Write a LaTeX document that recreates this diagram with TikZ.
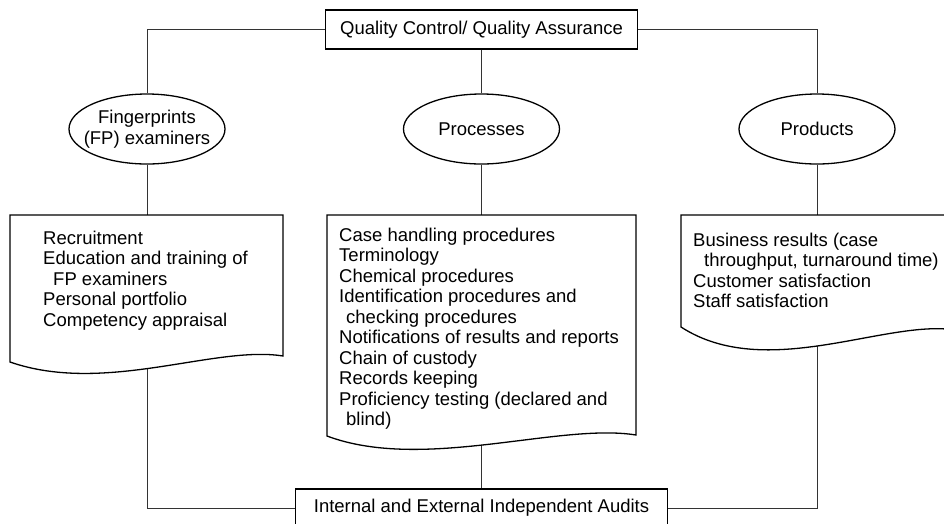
\documentclass[tikz,border=0pt]{standalone}
\usepackage{fontspec}
\setmainfont{Liberation Sans}
\usetikzlibrary{shapes.geometric}
\begin{document}
\begin{tikzpicture}[x=1pt,y=-1pt,
  every node/.style={font=\fontsize{18.5}{20.5}\selectfont, inner sep=0pt},
  boxnode/.style={draw, fill=white, line width=1.3pt, minimum width=312pt, minimum height=39pt},
  ovalnode/.style={draw, ellipse, line width=1.3pt, minimum width=156pt, minimum height=70pt, align=center},
  link/.style={line width=0.9pt, draw=black!80},
  docshape/.style={draw, fill=white, line width=1.3pt, line join=miter},
  doctext/.style={anchor=base west}]
\useasboundingbox (0,0) rectangle (944,523);
% main nodes
\node[boxnode] (qa) at (481.5,29.5) {Quality Control/ Quality Assurance};
\node[boxnode, minimum width=372pt, minimum height=38pt] (audit) at (481.5,508) {Internal and External Independent Audits};
\node[ovalnode, inner xsep=-9pt, inner ysep=-4pt] (fp) at (147,129) {Fingerprints\\(FP) examiners};
\node[ovalnode] (proc) at (481.5,129) {Processes};
\node[ovalnode] (prod) at (817,129) {Products};
% hidden points inside the documents
\coordinate (fpdoc) at (147,290);
\coordinate (procdoc) at (481.5,330);
\coordinate (proddoc) at (817,270);
% connectors
\draw[link] (qa.west) -| (fp.north);
\draw[link] (qa.east) -| (prod.north);
\draw[link] (qa.south) -- (proc.north);
\draw[link] (fp.south) -- (fpdoc);
\draw[link] (fpdoc) |- (audit.west);
\draw[link] (proc.south) -- (procdoc) -- (audit.north);
\draw[link] (prod.south) -- (proddoc);
\draw[link] (proddoc) |- (audit.east);
% document shapes
\path[docshape] (10,215) -- (283,215) -- (283,356) .. controls (215,345) and (105,395) .. (10,362) -- cycle;
\path[docshape] (327,215) -- (636,215) -- (636,435) .. controls (559,422.5) and (423,472) .. (327,436) -- cycle;
\path[docshape] (681,215) -- (955,215) -- (955,330) .. controls (886,319) and (766,382) .. (681,327) -- cycle;
% document texts
\node[doctext] (fptext) at (43,244) {\begin{tabular}[t]{@{}l@{}}Recruitment\\Education and training of\\\hspace*{10pt}FP examiners\\Personal portfolio\\Competency appraisal\end{tabular}};
\node[doctext] (proctext) at (339,241) {\begin{tabular}[t]{@{}l@{}}Case handling procedures\\Terminology\\Chemical procedures\\Identification procedures and\\\hspace*{7pt}checking procedures\\Notifications of results and reports\\Chain of custody\\Records keeping\\Proficiency testing (declared and\\\hspace*{7pt}blind)\end{tabular}};
\node[doctext] (prodtext) at (693,246) {\begin{tabular}[t]{@{}l@{}}Business results (case\\\hspace*{11pt}throughput, turnaround time)\\Customer satisfaction\\Staff satisfaction\end{tabular}};
\end{tikzpicture}
\end{document}
